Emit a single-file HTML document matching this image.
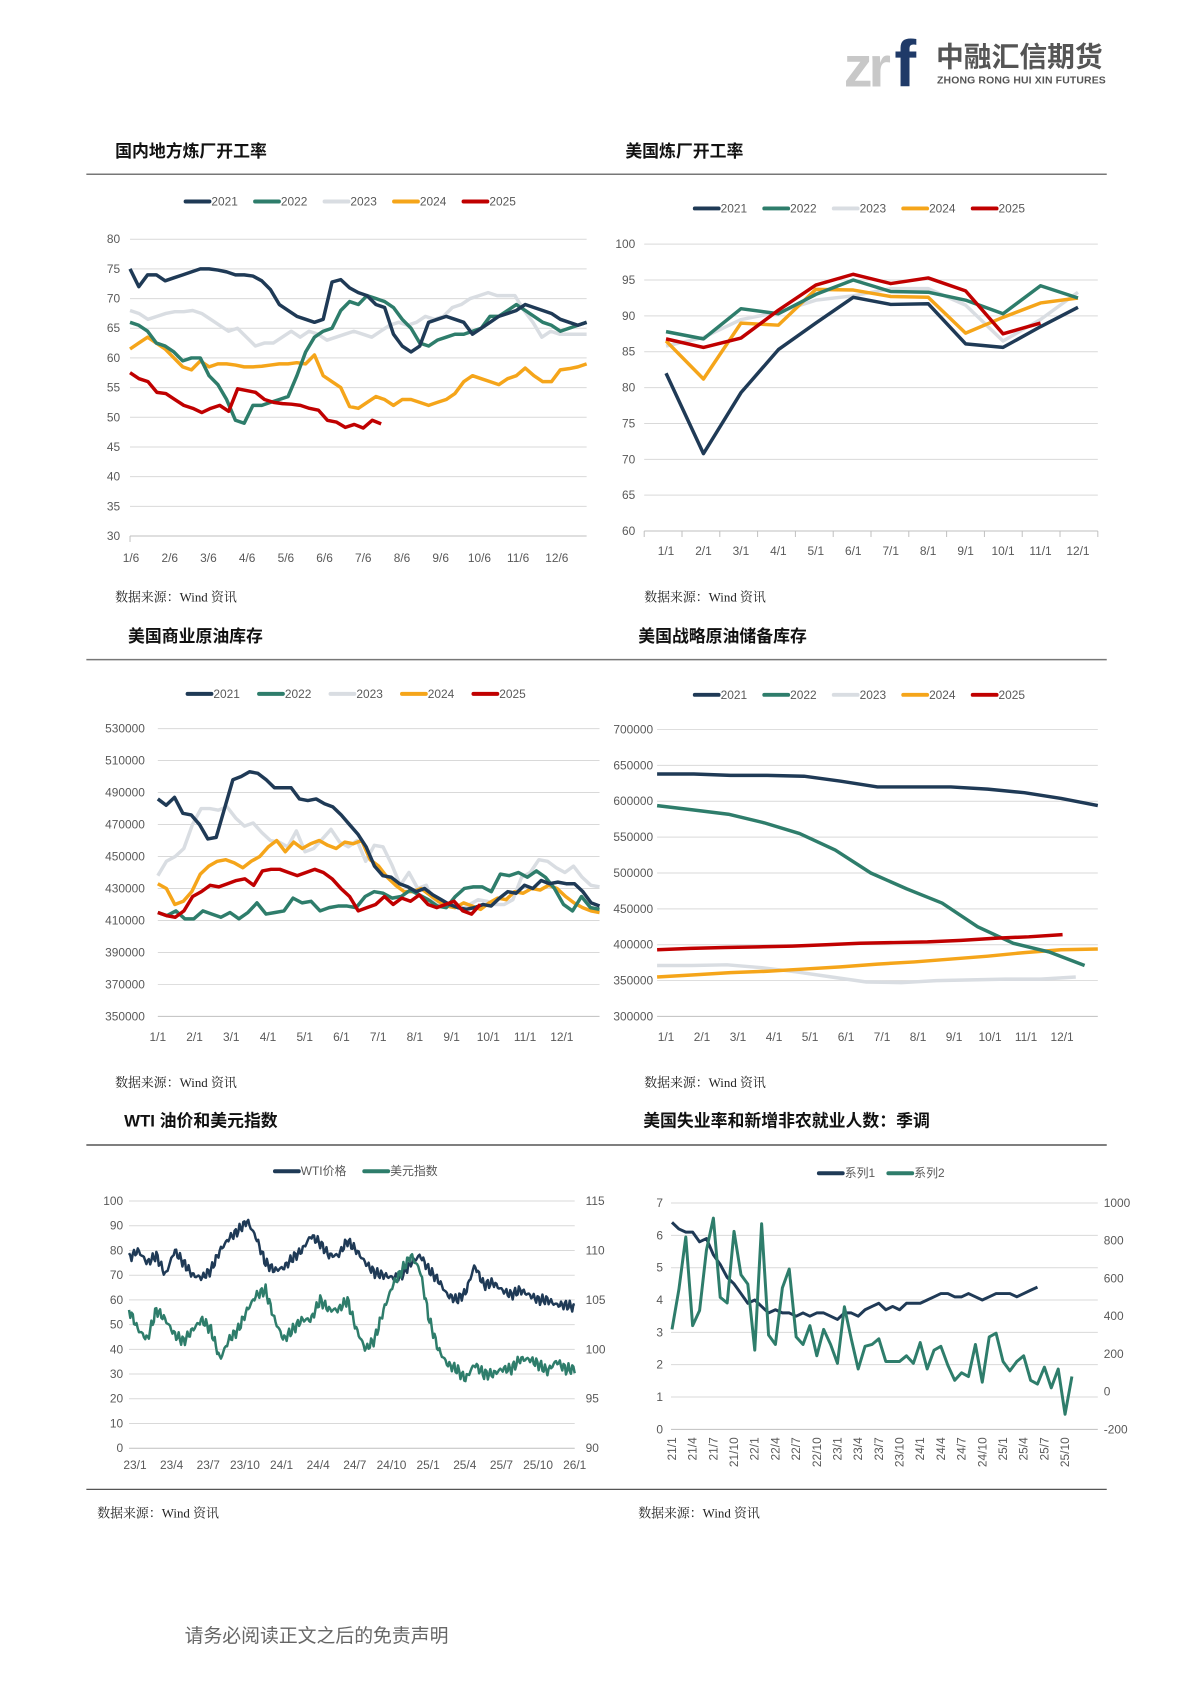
<!DOCTYPE html>
<html><head><meta charset="utf-8">
<style>
html,body{margin:0;padding:0;background:#fff;}
svg{display:block;}
text{font-family:"Liberation Sans","Noto Sans CJK SC",sans-serif;}
.ax{font-size:12px;fill:#595959;}
.ttl{font-size:17px;font-weight:bold;fill:#111;font-family:"Liberation Sans","Noto Sans CJK SC",sans-serif;}
.src{font-size:13px;fill:#222;font-family:"Liberation Serif","Noto Serif CJK SC",serif;}
.lg{font-size:12px;fill:#595959;}
</style></head>
<body>
<svg id="s" width="1190" height="1683" viewBox="0 0 1190 1683" xmlns="http://www.w3.org/2000/svg">
<g transform="scale(0.9926)">
<text x="850" y="87" font-size="58" font-weight="bold" fill="#c8c8c8" font-family="Liberation Sans,sans-serif" letter-spacing="-4">zr</text>
<text x="901" y="87" font-size="66" font-weight="bold" fill="#1f3a68" font-family="Liberation Sans,sans-serif">f</text>
<text x="943" y="67" font-size="28" font-weight="bold" fill="#555" font-family="Noto Sans CJK SC,sans-serif">中融汇信期货</text>
<text x="944" y="84" font-size="10.5" font-weight="bold" fill="#555" textLength="170">ZHONG RONG HUI XIN FUTURES</text>

<text class="ttl" x="116" y="158">国内地方炼厂开工率</text>
<text class="ttl" x="630" y="158">美国炼厂开工率</text>
<line x1="87" y1="175.5" x2="1115" y2="175.5" stroke="#777" stroke-width="1.5"/>
<text class="src" x="116" y="606">数据来源：Wind 资讯</text>
<text class="src" x="649" y="606">数据来源：Wind 资讯</text>

<text class="ttl" x="129" y="647">美国商业原油库存</text>
<text class="ttl" x="643" y="647">美国战略原油储备库存</text>
<line x1="87" y1="664.5" x2="1115" y2="664.5" stroke="#777" stroke-width="1.5"/>
<text class="src" x="116" y="1095">数据来源：Wind 资讯</text>
<text class="src" x="649" y="1095">数据来源：Wind 资讯</text>

<text class="ttl" x="125" y="1135">WTI 油价和美元指数</text>
<text class="ttl" x="648" y="1135">美国失业率和新增非农就业人数：季调</text>
<line x1="87" y1="1153.5" x2="1115" y2="1153.5" stroke="#555" stroke-width="1.5"/>
<line x1="87" y1="1500.5" x2="1115" y2="1500.5" stroke="#555" stroke-width="1.2"/>
<text class="src" x="98" y="1529">数据来源：Wind 资讯</text>
<text class="src" x="643" y="1529">数据来源：Wind 资讯</text>

<text x="186" y="1654" font-size="19" fill="#666" font-family="Liberation Serif,Noto Serif CJK SC,serif">请务必阅读正文之后的免责声明</text>
<g id="g"></g>
</g>
</svg>
<script>
var NS="http://www.w3.org/2000/svg",G=document.getElementById("g");
function el(t,a,txt){var e=document.createElementNS(NS,t);for(var k in a)e.setAttribute(k,a[k]);if(txt!=null)e.textContent=txt;G.appendChild(e);return e;}
var C={d:"#1f3a56",t:"#2e7d6b",l:"#d9dde2",o:"#f5a51a",r:"#c00000"};
function grid(x0,x1,yTop,yBot,ticks,lx,anchor,fmt){
  var n=ticks.length;
  for(var i=0;i<n;i++){var y=yBot-(yBot-yTop)*i/(n-1);
    el("line",{x1:x0,x2:x1,y1:y,y2:y,stroke:i==0?"#bfbfbf":"#d9d9d9","stroke-width":1});
    el("text",{x:lx,y:y+4,"class":"ax","text-anchor":anchor},ticks[i]);}
}
function series(vals,x0,x1,frac,vmin,vmax,yBot,yTop,col,w){
  var n=vals.length,p="";
  for(var i=0;i<n;i++){var x=x0+(x1-x0)*frac*i/(n-1);var y=yBot-(vals[i]-vmin)/(vmax-vmin)*(yBot-yTop);p+=(i?"L":"M")+x.toFixed(1)+","+y.toFixed(1);}
  el("path",{d:p,fill:"none",stroke:col,"stroke-width":w||3.5,"stroke-linejoin":"round"});
}
function legend(items,x,y){
  items.forEach(function(it,i){var xx=x+i*it[2];
    el("line",{x1:xx,x2:xx+24,y1:y,y2:y,stroke:it[1],"stroke-width":4,"stroke-linecap":"round"});
    el("text",{x:xx+26,y:y+4,"class":"lg"},it[0]);});
}
function xlabels(labels,x0,x1,y){labels.forEach(function(l,i){el("text",{x:x0+(x1-x0)*i/(labels.length-1),y:y,"class":"ax","text-anchor":"middle"},l);});}
var yrs=[["2021",C.d],["2022",C.t],["2023",C.l],["2024",C.o],["2025",C.r]];

grid(131,591,241,540,["30","35","40","45","50","55","60","65","70","75","80"],121,"end");
el("line",{x1:131,x2:131,y1:540,y2:546,stroke:"#bfbfbf"});
legend(yrs.map(function(a){return [a[0],a[1],70]}),187,203);
xlabels(["1/6","2/6","3/6","4/6","5/6","6/6","7/6","8/6","9/6","10/6","11/6","12/6"],132,561,566);
var a1=[75,72,74,74,73,73.5,74,74.5,75,75,74.8,74.5,74,74,73.8,73,71.5,69,68,67,66.5,66,66.5,72.8,73.2,71.8,71,70.5,69,68.5,64,62,61,62,66,66.5,67,66.5,66,64,65,66,67,67.5,68,69,68.5,68,67.5,66.5,66,65.5,66];
var a2=[66,65.5,64.5,62.5,62,61,59.5,60,60,57,55.5,53,49.5,49,52,52,52.5,53,53.5,57,61,63.5,64.5,65,68,69.5,69,70.5,70,69.5,68.5,66.5,65,62.5,62,63,63.5,64,64,64.5,65,67,67,68,69,68,67,66,65.5,64.5,65,65.5,66];
var a3=[68,67.5,66.5,67,67.5,67.8,67.8,68,67.5,66.5,65.5,64.5,65,63.5,62,62.5,62.5,63.5,64.5,63.5,64.5,64,63,63.5,64,64.5,64,63.5,64.5,65.5,66,65.5,66,67,66.5,67,68.5,69,70,70.5,71,70.5,70.5,70.5,68,66,63.5,64.5,64,64,64,64];
var a4=[61.5,62.5,63.5,62.5,61.5,60,58.5,58,59.5,58.5,59,59,58.8,58.5,58.5,58.6,58.8,59,59,59.2,59,60.5,57,56,55,51.8,51.5,52.5,53.5,53,52,53,53,52.5,52,52.5,53,54,56,57,56.5,56,55.5,56.5,57,58.3,57,56,56,58,58.2,58.5,59];
var a5=[57.5,56.5,56,54.2,54,53,52,51.5,50.8,51.5,52,51,54.8,54.5,54.2,53,52.5,52.3,52.2,52,51.5,51.2,49.5,49.2,48.3,48.8,48.2,49.5,48.9];
[[a3,C.l],[a4,C.o],[a2,C.t],[a1,C.d]].forEach(function(s){series(s[0],131,591,1,30,80,540,241,s[1]);});
series(a5,131,591,0.55,30,80,540,241,C.r);

grid(649,1106,246,535,["60","65","70","75","80","85","90","95","100"],640,"end");
for(var i=0;i<=12;i++){var x=649+(1106-649)*i/12;el("line",{x1:x,x2:x,y1:535,y2:541,stroke:"#bfbfbf"});}
legend(yrs.map(function(a){return [a[0],a[1],70]}),700,210);
var M=["1/1","2/1","3/1","4/1","5/1","6/1","7/1","8/1","9/1","10/1","11/1","12/1"];
M.forEach(function(l,i){el("text",{x:671+i*(1086-671)/11,y:559,"class":"ax","text-anchor":"middle"},l);});
var b=[[[85.8,87,89.5,90.5,92.2,92.8,93.8,93.8,91.5,86.5,89.5,93.3],C.l],
[[86.5,81.2,89,88.7,93.7,93.6,92.7,92.6,87.6,89.8,91.8,92.5],C.o],
[[87.8,86.8,91,90.3,93,95,93.4,93.3,92.2,90.3,94.2,92.5],C.t],
[[82,70.8,79.3,85.3,89,92.6,91.6,91.7,86.1,85.6,88.5,91.2],C.d]];
b.forEach(function(s){series(s[0],671,1086,1,60,100,535,246,s[1]);});
series([86.8,85.6,86.9,90.8,94.3,95.8,94.5,95.3,93.5,87.5,89],671,1086,10/11,60,100,535,246,C.r);

var t3=[];for(var v=350000;v<=530000;v+=20000)t3.push(String(v));
grid(159,604,734,1024,t3,146,"end");
legend(yrs.map(function(a){return [a[0],a[1],72]}),189,699);
xlabels(["1/1","2/1","3/1","4/1","5/1","6/1","7/1","8/1","9/1","10/1","11/1","12/1"],159,566,1049);
var c1=[486,482,487,477,476,470,461,462,480,498,500,503,502,498,493,493,493,486,485,486,483,481,476,470,464,456,444,438,437,433,431,428,430,426,423,420,418,417,418,420,419,424,428,427,432,430,435,433,434,433,433,428,421,419];
var c2=[415,413,416,411,411,416,414,412,415,411,415,421,414,415,416,424,421,422,416,418,419,419,418,425,428,427,424,425,429,426,423,419,418,425,430,431,431,428,439,438,440,437,441,437,430,420,416,425,418,417];
var c3=[438,447,450,455,470,480,480,479,481,474,469,471,465,460,459,456,466,453,455,461,467,459,456,460,447,457,456,445,432,440,430,432,420,421,420,417,420,423,422,420,420,423,437,440,448,447,443,440,444,437,432,431];
var c4=[433,430,420,422,428,439,444,447,448,446,443,447,450,456,460,453,459,455,458,460,457,455,459,458,460,448,444,437,432,428,428,430,426,422,419,418,421,419,417,421,424,423,428,427,430,429,432,430,425,421,418,416,415];
var c5=[415,413,412,416,425,428,432,431,433,435,436,432,441,442,442,440,438,440,442,440,436,430,425,416,418,420,425,420,424,422,426,420,418,420,422,416,414,420];
[[c3,C.l],[c4,C.o],[c2,C.t],[c1,C.d]].forEach(function(s){series(s[0],159,604,1,350,530,1024,734,s[1]);});
series(c5,159,604,0.73,350,530,1024,734,C.r);

var t4=[];for(var v=300000;v<=700000;v+=50000)t4.push(String(v));
grid(662,1106,735,1024,t4,658,"end");
legend(yrs.map(function(a){return [a[0],a[1],70]}),700,700);
xlabels(["1/1","2/1","3/1","4/1","5/1","6/1","7/1","8/1","9/1","10/1","11/1","12/1"],671,1070,1049);
series([371,371,372,368,362,355,348,347,350,351,352,352,355],662,1106,0.95,300,700,1024,735,C.l);
series([355,358,361,363,366,369,373,376,380,384,389,393,394],662,1106,1,300,700,1024,735,C.o);
series([594,588,582,570,555,532,500,478,458,425,402,390,371],662,1106,0.97,300,700,1024,735,C.t);
series([638,638,636,636,635,628,620,620,620,617,612,604,594],662,1106,1,300,700,1024,735,C.d);
series([393,395,396,397,398,400,402,403,404,406,409,411,414],662,1106,0.92,300,700,1024,735,C.r);

var t5l=["0","10","20","30","40","50","60","70","80","90","100"],t5r=["90","95","100","105","110","115"];
grid(130,579,1210,1459,t5l,124,"end");
t5r.forEach(function(l,i){el("text",{x:590,y:1459-i*(249/5)+4,"class":"ax"},l);});
legend([["WTI价格",C.d,90],["美元指数",C.t,90]],277,1180);
xlabels(["23/1","23/4","23/7","23/10","24/1","24/4","24/7","24/10","25/1","25/4","25/7","25/10","26/1"],136,579,1480);
function noisy(keys,n,amp,seed){var out=[];for(var i=0;i<n;i++){var f=i/(n-1)*0.98;var k=0;while(k<keys.length-2&&f>keys[k+1][0])k++;var a=keys[k],b2=keys[k+1];var t=(f-a[0])/(b2[0]-a[0]);if(t>1)t=1;var v=a[1]+(b2[1]-a[1])*t;v+=amp*(Math.sin(i*1.7+seed)*0.6+Math.sin(i*4.3+seed*2)*0.4);out.push(v);}return out;}
function kf(arr){var r=[];for(var i=0;i<arr.length;i++)r.push([i*0.02,arr[i]]);return r;}
var wti=noisy(kf([77,80,75,78,70,80,75,70,69,72,80,85,88,92,85,75,72,73,77,80,86,83,78,78,84,80,75,71,70,69,70,75,78,72,68,62,60,63,74,66,67,64,62,64,62,60,60,58,58,57]),360,2.2,1);
var dxy=noisy(kf([104,102,101,104,103,101.5,100.8,102,103,102,99,101,102,104,105.5,106,103,101,102,103,103,105,104,104,105,102,100,101,104,106.5,108,109.5,108,103,100,98.5,98,97,98.5,97.5,97.5,98,98,99,99,98.5,97.8,98.8,98,98]),360,0.6,3);
series(wti,130,579,1,0,100,1459,1210,C.d,2.5);
series(dxy,130,579,1,90,115,1459,1210,C.t,2.5);

grid(676,1106,1212,1440,["0","1","2","3","4","5","6","7"],668,"end");
["-200","0","200","400","600","800","1000"].forEach(function(l,i){el("text",{x:1112,y:1440-i*228/6+4,"class":"ax"},l);});
legend([["系列1",C.d,70],["系列2",C.t,70]],825,1182);
var step=(1073-677)/57;
for(var i=0;i<=57;i+=3){var x=677+i*step;var yy=21+Math.floor(i/12),mm=i%12+1;
 el("text",{x:0,y:0,"class":"ax","text-anchor":"end",transform:"translate("+(x+4)+",1448) rotate(-90)"},yy+"/"+mm);}
var u=[6.4,6.2,6.1,6.1,5.8,5.9,5.4,5.1,4.7,4.5,4.2,3.9,4.0,3.8,3.6,3.7,3.6,3.6,3.5,3.6,3.5,3.6,3.6,3.5,3.4,3.6,3.6,3.5,3.7,3.8,3.9,3.7,3.8,3.7,3.9,3.9,3.9,4.0,4.1,4.2,4.2,4.1,4.1,4.2,4.1,4.0,4.1,4.2,4.2,4.2,4.1,4.2,4.3,4.4];
series(u,677,677+step*(u.length-1),1,0,7,1440,1212,C.d,3);
var p=[330,540,820,350,430,750,920,500,470,850,620,570,220,890,300,250,550,650,290,250,350,190,330,250,150,450,280,120,240,250,280,160,160,160,190,150,260,120,220,240,140,60,100,80,250,50,290,310,160,110,160,190,60,40,130,20,120,-120,80];
series(p,677,677+step*(p.length-1),1,-200,1000,1440,1212,C.t,3);
</script>
</body></html>
